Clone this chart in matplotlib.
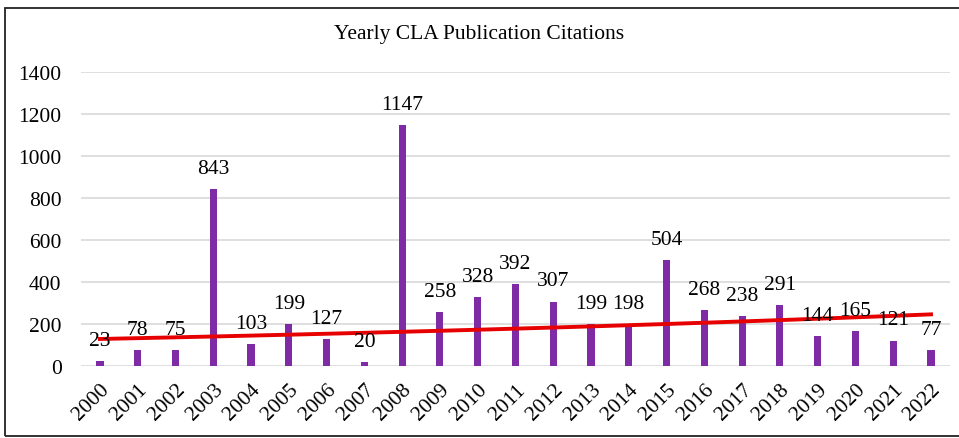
import matplotlib.pyplot as plt
import numpy as np
from matplotlib.patches import Rectangle

years = [str(y) for y in range(2000, 2023)]
citations = [23, 78, 75, 843, 103, 199, 127, 20, 1147, 258, 328, 392,
             307, 199, 198, 504, 268, 238, 291, 144, 165, 121, 77]
yticks = [0, 200, 400, 600, 800, 1000, 1200, 1400]

plt.rcParams['font.family'] = ['Liberation Serif', 'DejaVu Serif']

fig = plt.figure(figsize=(9.59, 4.39), dpi=100)
ax = fig.add_axes([0.0845, 0.164, 0.906, 0.670])

x = np.arange(len(years))
ax.bar(x, citations, width=0.19, color='#7F2BA5', zorder=2)

# exponential trendline (fit in log space)
b, a = np.polyfit(x, np.log(citations), 1)
xs = np.linspace(x[0], x[-1], 100)
ax.plot(xs, np.exp(a + b * xs), color='#E60000', lw=2.8, zorder=3)

for xi, v in zip(x, citations):
    ax.annotate(str(v), (xi, v), xytext=(0, 8), textcoords='offset points',
                ha='center', va='bottom', fontsize=15.5, zorder=4)

ax.set_xlim(-0.5, len(years) - 0.5)
ax.set_ylim(0, 1400)
ax.set_yticks(yticks)
ax.set_xticks(x)
ax.set_xticklabels(years, rotation=45, ha='right', rotation_mode='anchor')
ax.tick_params(axis='both', length=0, labelsize=15.5)
ax.tick_params(axis='y', pad=14)
ax.tick_params(axis='x', pad=10)
ax.grid(axis='y', color='#D9D9D9', lw=1.2, zorder=0)
ax.set_axisbelow(True)
for s in ax.spines.values():
    s.set_visible(False)

fig.text(0.5, 0.922, 'Yearly CLA Publication Citations', ha='center',
         va='center', fontsize=15.5)

fig.patches.append(Rectangle((0.005, 0.005), 1.2, 0.975, transform=fig.transFigure,
                             fill=False, edgecolor='#222222', lw=1.3))

fig.savefig('out.png', dpi=100)
